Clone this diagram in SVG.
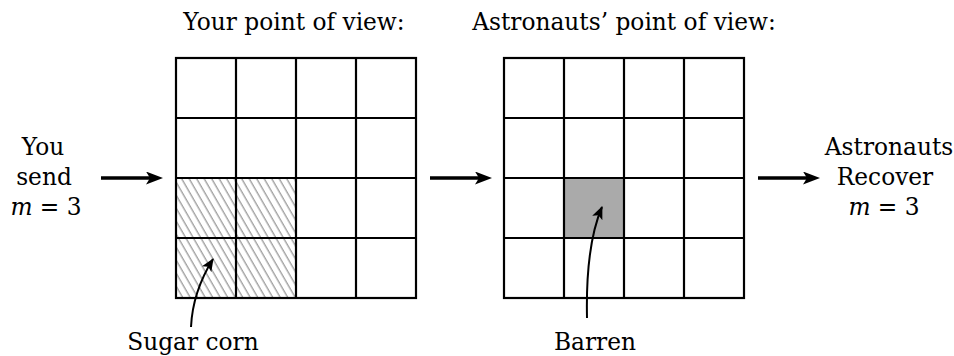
<svg xmlns="http://www.w3.org/2000/svg" width="954" height="356" viewBox="0 0 954 356">
<style>
.t{font-family:"DejaVu Serif","Noto Serif",serif;font-size:23.3px;fill:#000;text-anchor:middle}
.it{font-style:italic}
.grid{fill:none;stroke:#000;stroke-width:2.2}
.arr{fill:none;stroke:#000;stroke-width:3.6}
.carr{fill:none;stroke:#000;stroke-width:2}
</style>
<defs>
<pattern id="hatch" patternUnits="userSpaceOnUse" width="6.5" height="10" patternTransform="rotate(-30)">
<line x1="3" y1="-2" x2="3" y2="12" stroke="#9a9a9a" stroke-width="1.3"/>
</pattern>
<marker id="ah" markerWidth="17" markerHeight="13" refX="4" refY="6.5" orient="auto" markerUnits="userSpaceOnUse">
<path d="M0,0 L17,6.5 L0,13 L4,6.5 Z" fill="#000"/>
</marker>
<marker id="ah2" markerWidth="13" markerHeight="12" refX="12" refY="6" orient="auto" markerUnits="userSpaceOnUse">
<path d="M0,0.5 L13,6 L0,11.5 L3,6 Z" fill="#000"/>
</marker>
</defs>
<g id="title-left"><text class="t" x="294" y="30">Your point of view:</text></g>
<g id="title-right"><text class="t" x="624" y="30">Astronauts’ point of view:</text></g>
<g id="label-send">
<text class="t" x="43" y="155">You</text>
<text class="t" x="44" y="185">send</text>
<text class="t" x="46" y="215"><tspan class="it">m</tspan> = 3</text>
</g>
<g id="label-recover">
<text class="t" x="889" y="155">Astronauts</text>
<text class="t" x="885" y="185">Recover</text>
<text class="t" x="884" y="215"><tspan class="it">m</tspan> = 3</text>
</g>
<g id="label-sugar"><text class="t" x="193" y="350">Sugar corn</text></g>
<g id="label-barren"><text class="t" x="595" y="350">Barren</text></g>
<g id="grid-left">
<rect x="176" y="178" width="120" height="120" fill="url(#hatch)"/>
<rect class="grid" x="176" y="58" width="240" height="240"/>
<path class="grid" d="M236,58V298M296,58V298M356,58V298M176,118H416M176,178H416M176,238H416"/>
</g>
<g id="grid-right">
<rect x="564" y="178" width="60" height="60" fill="#aaaaaa"/>
<rect class="grid" x="504" y="58" width="240" height="240"/>
<path class="grid" d="M564,58V298M624,58V298M684,58V298M504,118H744M504,178H744M504,238H744"/>
</g>
<g id="connectors">
<line class="arr" x1="101" y1="178" x2="150" y2="178" marker-end="url(#ah)"/>
<line class="arr" x1="430" y1="178" x2="479" y2="178" marker-end="url(#ah)"/>
<line class="arr" x1="758" y1="178" x2="807" y2="178" marker-end="url(#ah)"/>
<path class="carr" d="M191,327 C192,305 200,280 213,259" marker-end="url(#ah2)"/>
<path class="carr" d="M587,318 C586,270 590,235 602,207" marker-end="url(#ah2)"/>
</g>
</svg>
